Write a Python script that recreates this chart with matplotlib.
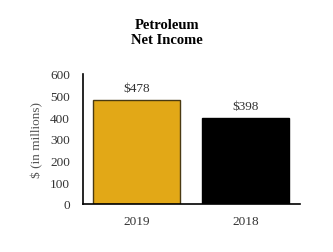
import matplotlib
matplotlib.use("Agg")
import matplotlib.pyplot as plt

categories = ["2019", "2018"]
values = [478, 398]
labels = ["$478", "$398"]
colors = ["#E2A817", "#000000"]
edgecolors = ["#4a3a12", "#000000"]
yticks = [0, 100, 200, 300, 400, 500, 600]

plt.rcParams['font.family'] = ['Liberation Serif', 'DejaVu Serif']

fig = plt.figure(figsize=(3.33, 2.53), dpi=100)
ax = fig.add_axes([0.248, 0.19, 0.653, 0.514])
x = range(len(categories))
bars = ax.bar(x, values, width=0.8, color=colors, edgecolor=edgecolors, linewidth=1.0)
for xi, v, lab in zip(x, values, labels):
    ax.text(xi, v + 55, lab, ha='center', va='center', fontsize=9.5, color='#333333')

ax.set_xlim(-0.5, 1.5)
ax.set_ylim(0, 600)
ax.set_yticks(yticks)
ax.set_xticks(list(x))
ax.set_xticklabels(categories)
ax.tick_params(axis='both', length=0, labelsize=9.5, colors='#333333', pad=9)
ax.tick_params(axis='x', pad=8)
for s in ['top', 'right']:
    ax.spines[s].set_visible(False)
ax.spines['left'].set_linewidth(1.2)
ax.spines['bottom'].set_linewidth(1.2)
ax.set_ylabel("$ (in millions)", fontsize=9.5, color='#555555', labelpad=5)

fig.text(0.502, 0.87, "Petroleum\nNet Income", ha='center', va='center',
         fontsize=10.5, fontweight='bold', linespacing=1.15)

fig.savefig("out.png", dpi=100)
